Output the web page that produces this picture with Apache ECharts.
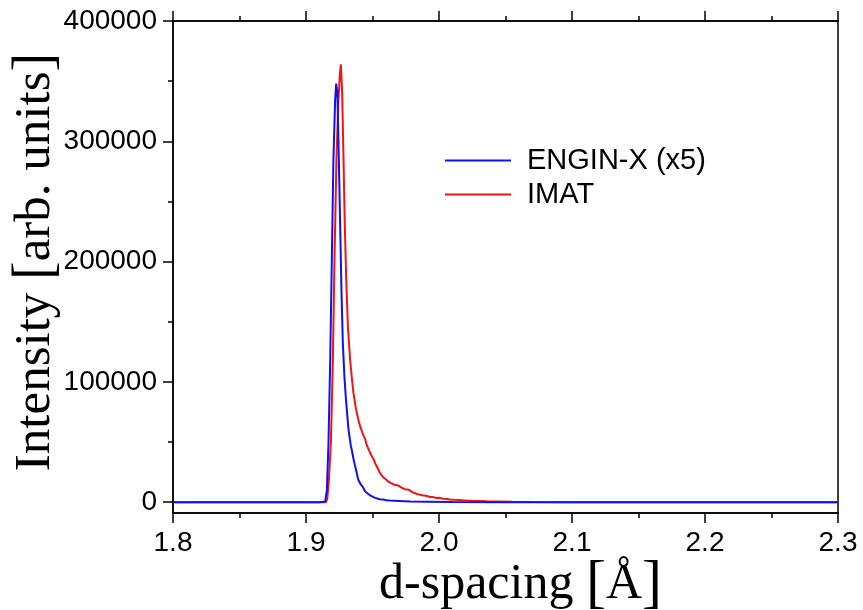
<!DOCTYPE html>
<html>
<head>
<meta charset="utf-8">
<script src="https://cdn.jsdelivr.net/npm/echarts@6/dist/echarts.min.js"></script>
<style>
html,body{margin:0;padding:0;background:#fff;}
#chart{width:863px;height:610px;}
</style>
</head>
<body>
<div id="chart"></div>
<script>
// ---- data ----
const seriesNames = ['ENGIN-X (x5)', 'IMAT'];
const engD = [1.800, 1.850, 1.900, 1.910, 1.9144, 1.9157, 1.9169, 1.9182, 1.9194, 1.9206, 1.9219, 1.9227, 1.9236, 1.9247, 1.9257, 1.9267, 1.9277, 1.9289, 1.9300, 1.9307, 1.9318, 1.9327, 1.9337, 1.9345, 1.9357, 1.9369, 1.9380, 1.9388, 1.9394, 1.9405, 1.9413, 1.9420, 1.9428, 1.9437, 1.9445, 1.9457, 1.9468, 1.9480, 1.9492, 1.9505, 1.9520, 1.9532, 1.9555, 1.9580, 1.9605, 1.9632, 1.9700, 1.9782, 1.9900, 2.0100, 2.0500, 2.1000, 2.2000, 2.3000];
const engI = [0, 0, 0, 0, 500, 10000, 49000, 118000, 201000, 284000, 334000, 348000, 340000, 285000, 229000, 174000, 132000, 104000, 86000, 77000, 62000, 54500, 47000, 43000, 36000, 30000, 25000, 21000, 18500, 17000, 14500, 15800, 12500, 10500, 8800, 7500, 6800, 5200, 5000, 4300, 3600, 3300, 2500, 2200, 1600, 1300, 1000, 500, 400, 200, 0, 0, 0, 0];
const imatD = [1.800, 1.900, 1.9150, 1.9160, 1.9172, 1.9187, 1.9202, 1.9214, 1.9229, 1.9244, 1.9254, 1.9262, 1.9272, 1.9282, 1.9292, 1.9302, 1.9315, 1.9332, 1.9345, 1.9357, 1.9375, 1.9394, 1.9407, 1.9420, 1.9432, 1.9445, 1.9455, 1.9465, 1.9474, 1.9482, 1.9491, 1.9500, 1.9510, 1.9520, 1.9530, 1.9540, 1.9548, 1.9557, 1.9568, 1.9578, 1.9590, 1.9600, 1.9612, 1.9622, 1.9632, 1.9645, 1.9657, 1.9670, 1.9685, 1.9695, 1.9707, 1.9722, 1.9735, 1.9745, 1.9760, 1.9772, 1.9782, 1.9800, 1.9815, 1.9830, 1.9845, 1.9858, 1.9875, 1.9890, 1.9910, 1.9930, 1.9958, 1.9980, 2.0005, 2.0030, 2.0060, 2.0083, 2.0110, 2.0150, 2.0180, 2.0209, 2.0250, 2.0300, 2.0359, 2.0450, 2.0550, 2.0707, 2.1000, 2.2000, 2.3000];
const imatI = [0, 0, 0, 3000, 18000, 49000, 118000, 201000, 285000, 334000, 355000, 364000, 340000, 285000, 229000, 187000, 146000, 118000, 103000, 90600, 78000, 68400, 63000, 59000, 55500, 52500, 48000, 46500, 43000, 42500, 39000, 37500, 35500, 32400, 31000, 28000, 27000, 24100, 23500, 21000, 20800, 19000, 18500, 16800, 17100, 15500, 15800, 14200, 13500, 13800, 12500, 11800, 12000, 10800, 10000, 10400, 9200, 8200, 8500, 7000, 6500, 6100, 5800, 5000, 5200, 4300, 4200, 3500, 3600, 2800, 2700, 2300, 2000, 1800, 1500, 1300, 1100, 1000, 800, 600, 400, 200, 0, 0, 0];
const xTicks = [1.8, 1.9, 2.0, 2.1, 2.2, 2.3];
const yTicks = [0, 100000, 200000, 300000, 400000];
const yMinorTicks = [50000, 150000, 250000, 350000];
const xRange = [1.8, 2.3];
const yRange = [-9000, 400000];

// ---- chart ----
const chart = echarts.init(document.getElementById('chart'), null, {renderer: 'canvas'});
const zip = (a, b) => a.map((v, i) => [v, b[i]]);
const sansFont = '"Liberation Sans", Arial, sans-serif';
const serifFont = '"Liberation Serif", "Times New Roman", serif';
const axisLine = {show: true, onZero: false, lineStyle: {color: '#000', width: 1.5}};

const option = {
  backgroundColor: '#fff',
  animation: false,
  grid: {left: 173, right: 25, top: 21, bottom: 97, show: true, borderColor: '#000', borderWidth: 1.5,
    backgroundColor: 'transparent', containLabel: false, outerBoundsMode: 'none'},
  legend: {
    data: seriesNames,
    orient: 'vertical',
    left: 440, top: 141,
    icon: 'rect', itemWidth: 66, itemHeight: 2, itemGap: 5,
    textStyle: {fontFamily: sansFont, fontSize: 29, lineHeight: 29, color: '#000', padding: [0, 0, 0, 11]}
  },
  xAxis: [
    {
      type: 'value', position: 'bottom', min: xRange[0], max: xRange[1], interval: 0.1,
      axisLine: axisLine,
      axisTick: {show: true, inside: false, length: 10, lineStyle: {color: '#000', width: 1.5}},
      minorTick: {show: true, splitNumber: 2, length: 5, lineStyle: {color: '#000', width: 1.5}},
      splitLine: {show: false},
      axisLabel: {show: true, margin: 16, fontFamily: sansFont, fontSize: 28, color: '#000',
        customValues: xTicks, formatter: v => v.toFixed(1)},
      name: 'd-spacing {b|[}Å{b|]}', nameLocation: 'middle', nameGap: 72, nameMoveOverlap: false,
      nameTextStyle: {fontFamily: serifFont, fontSize: 50, color: '#000', verticalAlign: 'middle',
        padding: [0, 0, 0, 30],
        rich: {b: {fontFamily: serifFont, fontSize: 60, color: '#000'}}}
    },
    {
      type: 'value', position: 'top', min: xRange[0], max: xRange[1], interval: 0.1,
      axisLine: axisLine,
      axisTick: {show: true, inside: false, length: 10, lineStyle: {color: '#000', width: 1.5}},
      minorTick: {show: true, splitNumber: 2, length: 5, lineStyle: {color: '#000', width: 1.5}},
      splitLine: {show: false},
      axisLabel: {show: false}
    }
  ],
  yAxis: [
    {
      type: 'value', position: 'left', min: yRange[0], max: yRange[1],
      axisLine: axisLine,
      axisTick: {show: true, inside: false, length: 10, customValues: yTicks, lineStyle: {color: '#000', width: 1.5}},
      splitLine: {show: false},
      axisLabel: {show: true, margin: 16, fontFamily: sansFont, fontSize: 28, color: '#000',
        customValues: yTicks, formatter: v => String(v)},
      name: 'Intensity {b|[}arb. units{b|]}', nameLocation: 'middle', nameGap: 109, nameRotate: 90,
      nameMoveOverlap: false,
      nameTextStyle: {fontFamily: serifFont, fontSize: 51, color: '#000', padding: [0, 0, 0, 10],
        rich: {b: {fontFamily: serifFont, fontSize: 56, color: '#000'}}}
    },
    {
      type: 'value', position: 'right', offset: -665, min: yRange[0], max: yRange[1],
      axisLine: {show: false},
      axisTick: {show: true, inside: true, length: 5, customValues: yMinorTicks, lineStyle: {color: '#000', width: 1.5}},
      splitLine: {show: false},
      axisLabel: {show: false}
    }
  ],
  series: [
    {
      name: seriesNames[0], type: 'line', xAxisIndex: 0, yAxisIndex: 0,
      data: zip(engD, engI), showSymbol: false, symbol: 'none', clip: true,
      lineStyle: {color: '#1010f0', width: 2}, itemStyle: {color: '#1010f0'}, z: 3
    },
    {
      name: seriesNames[1], type: 'line', xAxisIndex: 0, yAxisIndex: 0,
      data: zip(imatD, imatI), showSymbol: false, symbol: 'none', clip: true,
      lineStyle: {color: '#f01414', width: 2}, itemStyle: {color: '#f01414'}, z: 2
    }
  ]
};
chart.setOption(option);
</script>
</body>
</html>
